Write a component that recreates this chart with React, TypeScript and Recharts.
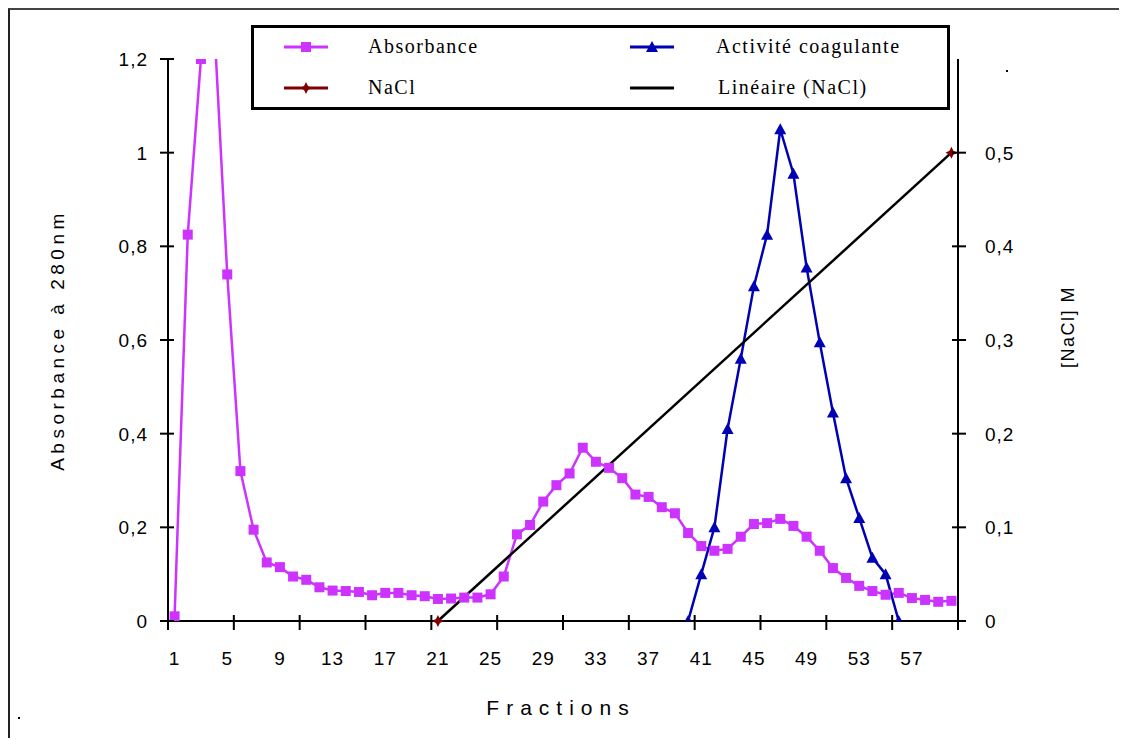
import React from 'react'
import { ComposedChart, Line, XAxis, YAxis, Label } from 'recharts'

// fractions 1..60
const fractions = Array.from({ length: 60 }, (_, i) => i + 1)

// absorbance at 280 nm, one value per fraction
const absorbance = [
  0.01, 0.825, 1.2, 1.28, 0.74, 0.32, 0.195, 0.125, 0.115, 0.095,
  0.088, 0.072, 0.065, 0.064, 0.062, 0.055, 0.06, 0.06, 0.055, 0.053,
  0.047, 0.048, 0.05, 0.05, 0.057, 0.095, 0.185, 0.205, 0.255, 0.29,
  0.315, 0.37, 0.34, 0.327, 0.305, 0.27, 0.265, 0.243, 0.23, 0.188,
  0.16, 0.15, 0.154, 0.18, 0.207, 0.209, 0.218, 0.203, 0.18, 0.15,
  0.113, 0.092, 0.075, 0.064, 0.056, 0.06, 0.049, 0.045, 0.041, 0.043,
]

// coagulant activity, fractions 40..56
const activiteStart = 40
const activite = [0, 0.1, 0.2, 0.41, 0.56, 0.715, 0.825, 1.05, 0.955, 0.755, 0.595, 0.445, 0.305, 0.22, 0.135, 0.1, 0]

// NaCl gradient (M)
const naclFractions = [21, 60]
const naclValues = [0, 0.5]

const xLabelTicks = [1, 5, 9, 13, 17, 21, 25, 29, 33, 37, 41, 45, 49, 53, 57]
const xMarkTicks = [0.5, 5.5, 10.5, 15.5, 20.5, 25.5, 30.5, 35.5, 40.5, 45.5, 50.5, 55.5, 60.5]
const leftTicks = [0, 0.2, 0.4, 0.6, 0.8, 1, 1.2]
const rightTicks = [0, 0.1, 0.2, 0.3, 0.4, 0.5]

const rows = fractions.map((f, i) => {
  const k = naclFractions.indexOf(f)
  return {
    fraction: f,
    absorbance: absorbance[i],
    activite: activite[f - activiteStart] ?? null,
    nacl: k >= 0 ? naclValues[k] : null,
    lineaire: k >= 0 ? naclValues[k] : null,
  }
})

const PURPLE = '#cc33ff'
const BLUE = '#0000b4'
const DARKRED = '#800000'
const sans = '"Liberation Sans", Arial, sans-serif'
const serif = '"Liberation Serif", "Times New Roman", serif'

const fmt = (v: number) => String(v).replace('.', ',')

const XTick = (p: any) => {
  const v = p.payload.value
  if (Number.isInteger(v)) {
    return (
      <text x={p.x} y={p.y + 44} textAnchor="middle" fontFamily={sans} fontSize={19} letterSpacing={1} fill="#000">
        {v}
      </text>
    )
  }
  return <line x1={p.x} x2={p.x} y1={p.y - 6} y2={p.y + 9} stroke="#000" strokeWidth={2} />
}

const LeftTick = (p: any) => (
  <g>
    <line x1={p.x - 8} x2={p.x + 6} y1={p.y} y2={p.y} stroke="#000" strokeWidth={2} />
    <text x={p.x - 20} y={p.y + 7} textAnchor="end" fontFamily={sans} fontSize={19} letterSpacing={1} fill="#000">
      {fmt(p.payload.value)}
    </text>
  </g>
)

const RightTick = (p: any) => (
  <g>
    <line x1={p.x - 6} x2={p.x + 8} y1={p.y} y2={p.y} stroke="#000" strokeWidth={2} />
    <text x={p.x + 27} y={p.y + 7} textAnchor="start" fontFamily={sans} fontSize={19} letterSpacing={1} fill="#000">
      {fmt(p.payload.value)}
    </text>
  </g>
)

const SquareDot = (p: any) => {
  if (p.cx == null || p.cy == null) return <g key={p.key} />
  return <rect key={p.key} x={p.cx - 5} y={p.cy - 5} width={10} height={10} fill={PURPLE} />
}

const TriangleDot = (p: any) => {
  if (p.cx == null || p.cy == null) return <g key={p.key} />
  return <path key={p.key} d={`M${p.cx},${p.cy - 6} L${p.cx + 6},${p.cy + 5} L${p.cx - 6},${p.cy + 5} Z`} fill={BLUE} />
}

const StarDot = (p: any) => {
  if (p.cx == null || p.cy == null) return <g key={p.key} />
  const { cx, cy } = p
  return (
    <path
      key={p.key}
      d={`M${cx},${cy - 6} L${cx + 2},${cy - 2} L${cx + 6},${cy} L${cx + 2},${cy + 2} L${cx},${cy + 6} L${cx - 2},${cy + 2} L${cx - 6},${cy} L${cx - 2},${cy - 2} Z`}
      fill={DARKRED}
    />
  )
}

const LeftTitle = (p: any) => {
  const vb = p.viewBox
  const x = vb.x + 49
  const y = vb.y + vb.height / 2
  return (
    <text x={x} y={y} transform={`rotate(-90 ${x} ${y})`} textAnchor="middle" dominantBaseline="central" fontFamily={sans} fontSize={19} letterSpacing={4.5} fill="#000">
      Absorbance à 280nm
    </text>
  )
}

const RightTitle = (p: any) => {
  const vb = p.viewBox
  const x = vb.x + 110
  const y = vb.y + vb.height / 2 - 13
  return (
    <text x={x} y={y} transform={`rotate(-90 ${x} ${y})`} textAnchor="middle" dominantBaseline="central" fontFamily={sans} fontSize={18} letterSpacing={1.5} fill="#000">
      [NaCl] M
    </text>
  )
}

const BottomTitle = (p: any) => {
  const vb = p.viewBox
  return (
    <text x={vb.x + vb.width / 2 - 2} y={vb.y + 94} textAnchor="middle" fontFamily={sans} fontSize={21} letterSpacing={7} fill="#000">
      Fractions
    </text>
  )
}

function LegendBox() {
  const item = (left: number, top: number, symbol: React.ReactNode, text: string, textLeft: number) => (
    <>
      <svg style={{ position: 'absolute', left, top: top - 8 }} width={44} height={16}>
        {symbol}
      </svg>
      <div style={{ position: 'absolute', left: textLeft, top: top - 13, fontFamily: serif, fontSize: 20, letterSpacing: 1.5, lineHeight: '24px', whiteSpace: 'nowrap' }}>
        {text}
      </div>
    </>
  )
  return (
    <div style={{ position: 'absolute', left: 243, top: 17, width: 699, height: 85, border: '3px solid #000', boxSizing: 'border-box', background: '#fff' }}>
      {item(30, 19, <><line x1={0} x2={44} y1={8} y2={8} stroke={PURPLE} strokeWidth={3} /><rect x={17} y={3} width={10} height={10} fill={PURPLE} /></>, 'Absorbance', 114)}
      {item(30, 60, <><line x1={0} x2={44} y1={8} y2={8} stroke={DARKRED} strokeWidth={3} /><path d="M22,2 L24,6 L28,8 L24,10 L22,14 L20,10 L16,8 L20,6 Z" fill={DARKRED} /></>, 'NaCl', 114)}
      {item(376, 19, <><line x1={0} x2={44} y1={8} y2={8} stroke={BLUE} strokeWidth={3} /><path d="M22,2 L28,13 L16,13 Z" fill={BLUE} /></>, 'Activité coagulante', 462)}
      {item(376, 60, <line x1={0} x2={44} y1={8} y2={8} stroke="#000" strokeWidth={3} />, 'Linéaire (NaCl)', 464)}
    </div>
  )
}

export default function App() {
  return (
    <div style={{ position: 'relative', width: 1111, height: 730 }}>
      <div style={{ position: 'absolute', left: 0, top: 0, width: 1116, height: 730, boxSizing: 'border-box', borderLeft: '2px solid #222', borderTop: '2px solid #444', borderRight: '2px solid #222' }} />
      <div style={{ position: 'absolute', left: 0, top: 0 }}>
        <ComposedChart width={1111} height={724} data={rows} margin={{ top: 51, right: 0, bottom: 0, left: 0 }}>
          <XAxis
            dataKey="fraction"
            type="number"
            domain={[0.5, 60.5]}
            ticks={[...xMarkTicks, ...xLabelTicks]}
            interval={0}
            tickSize={0}
            tickMargin={0}
            tickLine={false}
            tick={XTick}
            height={111}
            axisLine={{ stroke: '#000', strokeWidth: 2 }}
            label={<Label content={BottomTitle} />}
          />
          <YAxis
            yAxisId="left"
            domain={[0, 1.2]}
            allowDataOverflow
            ticks={leftTicks}
            interval={0}
            tickSize={0}
            tickMargin={0}
            tickLine={false}
            tick={LeftTick}
            width={160}
            axisLine={{ stroke: '#000', strokeWidth: 2 }}
            label={<Label content={LeftTitle} />}
          />
          <YAxis
            yAxisId="right"
            orientation="right"
            domain={[0, 0.6]}
            ticks={rightTicks}
            interval={0}
            tickSize={0}
            tickMargin={0}
            tickLine={false}
            tick={RightTick}
            width={161}
            axisLine={{ stroke: '#000', strokeWidth: 2 }}
            label={<Label content={RightTitle} />}
          />
          <Line yAxisId="left" dataKey="absorbance" stroke={PURPLE} strokeWidth={2.5} dot={SquareDot} isAnimationActive={false} />
          <Line yAxisId="left" dataKey="activite" stroke={BLUE} strokeWidth={2.5} dot={TriangleDot} isAnimationActive={false} />
          <Line yAxisId="right" dataKey="nacl" stroke={DARKRED} strokeWidth={2} dot={StarDot} isAnimationActive={false} />
          <Line yAxisId="right" dataKey="lineaire" stroke="#000" strokeWidth={2.5} dot={false} connectNulls isAnimationActive={false} />
        </ComposedChart>
      </div>
      <LegendBox />
      <div style={{ position: 'absolute', left: 998, top: 62, width: 2, height: 2, background: '#000' }} />
      <div style={{ position: 'absolute', left: 10, top: 709, width: 2, height: 2, background: '#000' }} />
    </div>
  )
}
